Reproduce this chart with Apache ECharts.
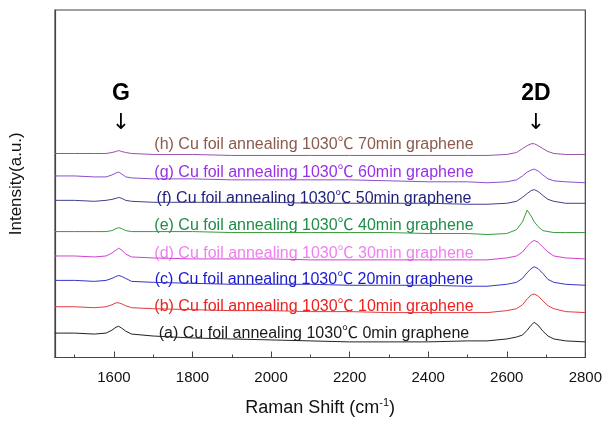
<!DOCTYPE html>
<html>
<head>
<meta charset="utf-8">
<script src="https://cdn.jsdelivr.net/npm/echarts@6/dist/echarts.min.js"></script>
<style>
  html, body { margin: 0; padding: 0; background: #fff; }
  #raman-chart { width: 605px; height: 422px; }
</style>
</head>
<body>
<div id="raman-chart"></div>
<script>
const shifts = [1450, 1500, 1550, 1580, 1595, 1605, 1612, 1620, 1630, 1645, 1700, 1800, 1900, 2000, 2100, 2200,
                2300, 2400, 2500, 2550, 2600, 2625, 2640, 2652, 2662, 2670, 2680, 2692, 2705, 2720, 2750, 2800];

// stacked intensities (a.u., offset already included)
const specA = [25, 25, 24, 25, 28, 31, 32, 30, 27, 24, 22, 20, 19, 18, 17, 16, 16, 16, 17, 17, 19, 21, 23, 28, 33, 36, 33, 27, 22, 19, 17, 16];
const specB = [52, 52, 51, 52, 54, 56, 56, 55, 53, 51, 50, 49, 48, 48, 47, 47, 46, 46, 46, 46, 48, 50, 54, 60, 64, 65, 63, 58, 53, 50, 47, 46];
const specC = [79, 79, 78, 79, 81, 83, 84, 83, 81, 78, 77, 76, 75, 75, 75, 74, 74, 74, 73, 73, 75, 77, 81, 87, 91, 93, 91, 86, 80, 77, 75, 74];
const specD = [104, 104, 103, 104, 107, 110, 112, 110, 106, 103, 102, 101, 101, 101, 100, 100, 100, 100, 100, 100, 102, 104, 108, 114, 118, 120, 118, 113, 108, 104, 102, 101];
const specE = [129, 129, 129, 129, 130, 132, 133, 132, 130, 129, 129, 129, 128, 128, 128, 128, 128, 127, 127, 126, 127, 131, 139, 151, 145, 139, 134, 130, 129, 128, 128, 128];
const specF = [161, 161, 160, 161, 162, 163, 164, 163, 161, 160, 159, 159, 159, 159, 158, 158, 158, 158, 157, 157, 158, 160, 164, 168, 171, 172, 170, 166, 162, 160, 158, 158];
const specG = [186, 186, 185, 185, 187, 189, 190, 188, 185, 184, 183, 183, 182, 182, 182, 182, 181, 180, 180, 179, 180, 182, 186, 190, 192, 193, 191, 187, 183, 181, 180, 179];
const specH = [209, 209, 209, 209, 210, 211, 212, 211, 210, 209, 208, 208, 207, 207, 207, 207, 207, 207, 207, 207, 208, 210, 214, 217, 219, 219, 217, 214, 211, 209, 208, 208];

const sampleNames = [
  '(a) Cu foil annealing 1030\u2103 0min graphene',
  '(b) Cu foil annealing 1030\u2103 10min graphene',
  '(c) Cu foil annealing 1030\u2103 20min graphene',
  '(d) Cu foil annealing 1030\u2103 30min graphene',
  '(e) Cu foil annealing 1030\u2103 40min graphene',
  '(f) Cu foil annealing 1030\u2103 50min graphene',
  '(g) Cu foil annealing 1030\u2103 60min graphene',
  '(h) Cu foil annealing 1030\u2103 70min graphene'
];

const majorTicks = [1600, 1800, 2000, 2200, 2400, 2600, 2800];
const minorTicks = [1500, 1700, 1900, 2100, 2300, 2500, 2700];

const spectra = [specA, specB, specC, specD, specE, specF, specG, specH];
const lineColors = ['#222222', '#e03c3c', '#3535c8', '#d040d0', '#3a9a3a', '#40408c', '#8a4ed0', '#9a50a8'];
const textColors = ['#1a1a1a', '#ee2020', '#1a1ad0', '#f080f0', '#1f8c4a', '#1e1e78', '#9a30e6', '#8a5a4c'];
const labelY = [334, 307, 280, 254, 226, 199, 173, 145];

const font = '"Liberation Sans", "Noto Sans CJK SC", Arial, sans-serif';
const chart = echarts.init(document.getElementById('raman-chart'));

const series = spectra.map(function (spec, i) {
  return {
    name: sampleNames[i],
    type: 'line',
    data: shifts.map(function (s, k) { return [s, spec[k]]; }),
    showSymbol: false,
    symbol: 'none',
    lineStyle: { color: lineColors[i], width: 1 }
  };
});

const labels = sampleNames.map(function (name, i) {
  return {
    type: 'text',
    x: 314,
    y: labelY[i],
    style: {
      text: name,
      fill: textColors[i],
      font: '16px ' + font,
      textAlign: 'center',
      textVerticalAlign: 'middle'
    }
  };
});

chart.setOption({
  animation: false,
  grid: {
    left: 52, right: 16, top: 10, bottom: 56,
    show: true, borderColor: '#444', borderWidth: 1.2
  },
  xAxis: [
    {
      type: 'value',
      min: 1450, max: 2800,
      name: 'Raman Shift (cm{sup|-1})',
      nameLocation: 'middle',
      nameGap: 40,
      nameTextStyle: {
        fontFamily: font, fontSize: 18, color: '#111',
        rich: { sup: { fontFamily: font, fontSize: 11, color: '#111', verticalAlign: 'top', padding: [0, 0, 10, 0] } }
      },
      axisLine: { show: true, lineStyle: { color: '#444', width: 1.2 } },
      axisTick: { show: true, inside: true, length: 6, customValues: majorTicks, lineStyle: { color: '#444' } },
      axisLabel: {
        show: true, customValues: majorTicks, margin: 13,
        fontFamily: font, fontSize: 15, color: '#111',
        formatter: function (v) { return String(v); }
      },
      splitLine: { show: false }
    },
    {
      type: 'value',
      min: 1450, max: 2800,
      position: 'bottom',
      axisLine: { show: false },
      axisTick: { show: true, inside: true, length: 3, customValues: minorTicks, lineStyle: { color: '#444' } },
      axisLabel: { show: false },
      splitLine: { show: false }
    }
  ],
  yAxis: {
    type: 'value',
    min: 0, max: 356,
    name: 'Intensity(a.u.)',
    nameLocation: 'middle',
    nameGap: 30,
    nameRotate: 90,
    nameTextStyle: { fontFamily: font, fontSize: 17, color: '#111' },
    axisLine: { show: true, lineStyle: { color: '#444', width: 1.2 } },
    axisTick: { show: false },
    axisLabel: { show: false },
    splitLine: { show: false }
  },
  graphic: labels.concat([
    { type: 'text', x: 121, y: 94, style: { text: 'G', fill: '#000', font: 'bold 23px ' + font, textAlign: 'center', textVerticalAlign: 'middle' } },
    { type: 'text', x: 536, y: 94, style: { text: '2D', fill: '#000', font: 'bold 23px ' + font, textAlign: 'center', textVerticalAlign: 'middle' } },
    { type: 'text', x: 121, y: 123, style: { text: '\u2193', fill: '#000', font: '22px "DejaVu Sans", sans-serif', textAlign: 'center', textVerticalAlign: 'middle' } },
    { type: 'text', x: 536, y: 123, style: { text: '\u2193', fill: '#000', font: '22px "DejaVu Sans", sans-serif', textAlign: 'center', textVerticalAlign: 'middle' } }
  ]),
  series: series
});
</script>
</body>
</html>
